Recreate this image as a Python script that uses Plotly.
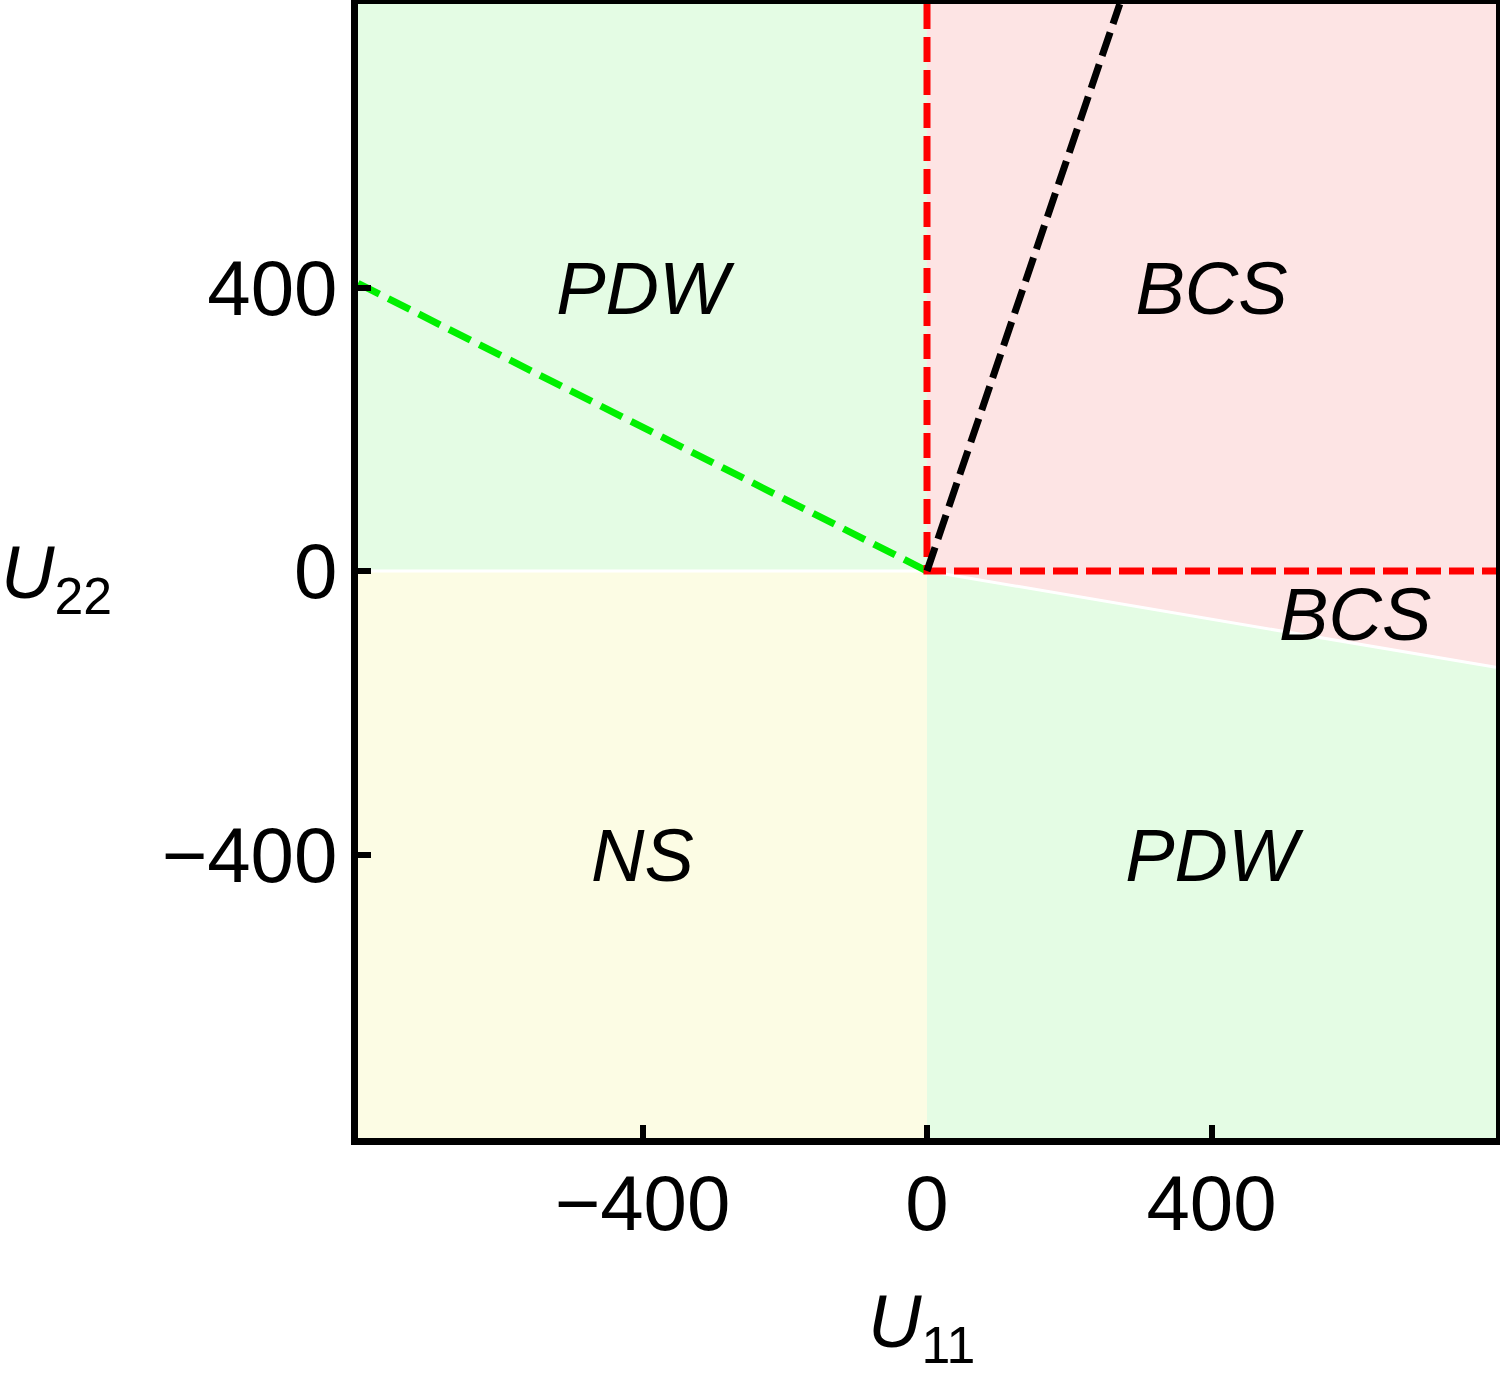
import plotly.graph_objects as go

# ------------------------------------------------------------
# DATA
# ------------------------------------------------------------

x_range = [-800, 800]
y_range = [-800, 800]
tick_vals = [-400, 0, 400]

# phase regions (polygon corners in U11, U22)
pdw_left_x = [-800, 0, 0, -800]
pdw_left_y = [0, 0, 800, 800]
ns_x = [-800, 0, 0, -800]
ns_y = [-800, -800, 0, 0]
bcs_x = [0, 800, 800, 0]
bcs_y = [0, -136, 800, 800]
pdw_right_x = [0, 800, 800, 0]
pdw_right_y = [-800, -800, -136, 0]

# boundary lines
green_x = [-800, 0]
green_y = [406, 0]
black_x = [0, 271]
black_y = [0, 800]
red_x = [0, 0, 800]
red_y = [800, 0, 0]
white_x = [-800, 0, 800]
white_y = [0, 0, -136]

# region labels
label_x = [-400, 400, 602, -400, 400]
label_y = [389, 389, -71, -411, -411]
label_text = ["PDW", "BCS", "BCS", "NS", "PDW"]

# ------------------------------------------------------------
# FIGURE
# ------------------------------------------------------------

GREEN = "rgb(228,252,228)"
YELLOW = "rgb(252,252,228)"
PINK = "rgb(253,228,228)"

fig = go.Figure()

for px, py, col in [(pdw_left_x, pdw_left_y, GREEN),
                    (ns_x, ns_y, YELLOW),
                    (bcs_x, bcs_y, PINK),
                    (pdw_right_x, pdw_right_y, GREEN)]:
    fig.add_trace(go.Scatter(
        x=px + [px[0]], y=py + [py[0]],
        fill="toself", fillcolor=col,
        mode="lines", line=dict(width=0, color=col),
        hoverinfo="skip", showlegend=False
    ))

fig.add_trace(go.Scatter(
    x=white_x, y=white_y, mode="lines",
    line=dict(color="white", width=3), showlegend=False
))

fig.add_trace(go.Scatter(
    x=green_x, y=green_y, mode="lines",
    line=dict(color="rgb(0,240,0)", width=7, dash="24px,10px"),
    showlegend=False
))
fig.add_trace(go.Scatter(
    x=red_x, y=red_y, mode="lines",
    line=dict(color="rgb(255,0,0)", width=7, dash="25px,8px"),
    showlegend=False
))
fig.add_trace(go.Scatter(
    x=black_x, y=black_y, mode="lines",
    line=dict(color="black", width=7, dash="25px,9px"),
    showlegend=False
))

fig.add_trace(go.Scatter(
    x=label_x, y=label_y, mode="text",
    text=[f"<i>{t}</i>" for t in label_text],
    textfont=dict(family="Liberation Sans", size=74, color="black"),
    textposition="middle center", showlegend=False
))

axis_common = dict(
    tickvals=tick_vals,
    ticks="inside", ticklen=13, tickwidth=6, tickcolor="black",
    showline=True, linewidth=7, linecolor="black", mirror=True,
    showgrid=False, zeroline=False, automargin=False,
    tickfont=dict(family="Liberation Sans", size=78, color="black"),
)

fig.update_xaxes(range=x_range, ticklabelstandoff=-9, **axis_common)
fig.update_yaxes(range=y_range, ticklabelstandoff=-2, **axis_common)

fig.add_annotation(
    xref="paper", yref="paper", x=0.495, y=-0.167,
    xanchor="center", yanchor="middle",
    text="<i>U</i><sub>11</sub>", showarrow=False,
    font=dict(family="Liberation Sans", size=74, color="black")
)
fig.add_annotation(
    xref="paper", yref="paper", x=-0.265, y=0.494,
    xanchor="center", yanchor="middle",
    text="<i>U</i><sub>22</sub>", showarrow=False,
    font=dict(family="Liberation Sans", size=74, color="black")
)

fig.update_layout(
    width=1500, height=1375,
    margin=dict(l=358, r=4, t=4, b=237),
    plot_bgcolor="white", paper_bgcolor="white",
)

fig.write_html("out.html", config={"displayModeBar": False},
               post_script="document.body.style.margin='0';")
